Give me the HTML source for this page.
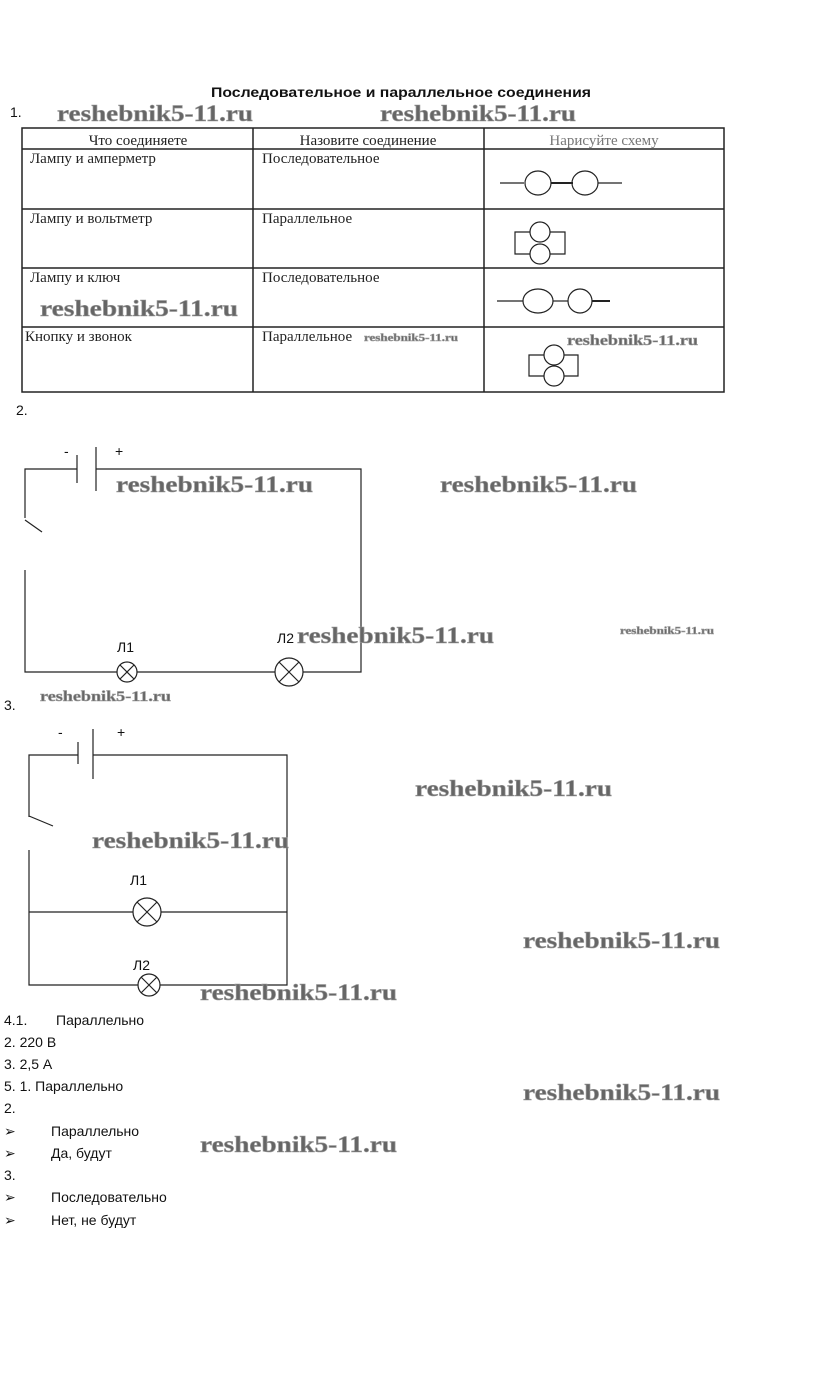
<!DOCTYPE html>
<html><head><meta charset="utf-8"><style>
body{margin:0;background:#fff;width:823px;height:1373px;overflow:hidden}
svg{display:block}
.wm{font-family:"Liberation Serif",serif;font-weight:bold;fill:#666;stroke:#999;stroke-width:0.6}
.ts{font-family:"Liberation Serif","Noto Serif CJK SC",serif;font-size:15px;fill:#222}
.s{font-family:"Liberation Sans","Noto Sans CJK SC",sans-serif;font-size:14px;fill:#111}
</style></head><body>
<svg width="823" height="1373" viewBox="0 0 823 1373" xmlns="http://www.w3.org/2000/svg">
<text x="401" y="97" text-anchor="middle" class="s" font-weight="bold" font-size="14.5" textLength="380" lengthAdjust="spacingAndGlyphs">Последовательное и параллельное соединения</text>
<text x="10" y="117" class="s">1.</text>
<text x="57" y="121" class="wm" font-size="23" textLength="196" lengthAdjust="spacingAndGlyphs">reshebnik5-11.ru</text>
<text x="380" y="121" class="wm" font-size="23" textLength="196" lengthAdjust="spacingAndGlyphs">reshebnik5-11.ru</text>
<!-- table -->
<g stroke="#222" stroke-width="1.5" fill="none">
<rect x="22" y="128" width="702" height="264"/>
<line x1="22" y1="149" x2="724" y2="149"/>
<line x1="22" y1="209" x2="724" y2="209"/>
<line x1="22" y1="268" x2="724" y2="268"/>
<line x1="22" y1="327" x2="724" y2="327"/>
<line x1="253" y1="128" x2="253" y2="392"/>
<line x1="484" y1="128" x2="484" y2="392"/>
</g>
<text x="138" y="145" text-anchor="middle" class="ts" fill="#777">Что соединяете</text>
<text x="368" y="145" text-anchor="middle" class="ts">Назовите соединение</text>
<text x="604" y="145" text-anchor="middle" class="ts" style="fill:#777">Нарисуйте схему</text>
<text x="30" y="163" class="ts">Лампу и амперметр</text>
<text x="262" y="163" class="ts">Последовательное</text>
<text x="30" y="223" class="ts">Лампу и вольтметр</text>
<text x="262" y="223" class="ts">Параллельное</text>
<text x="30" y="282" class="ts">Лампу и ключ</text>
<text x="262" y="282" class="ts">Последовательное</text>
<text x="25" y="341" class="ts">Кнопку и звонок</text>
<text x="262" y="341" class="ts">Параллельное</text>
<text x="364" y="341" class="wm" font-size="11" stroke-width="0.3" textLength="94" lengthAdjust="spacingAndGlyphs">reshebnik5-11.ru</text>
<text x="40" y="316" class="wm" font-size="23" textLength="198" lengthAdjust="spacingAndGlyphs">reshebnik5-11.ru</text>
<text x="567" y="345" class="wm" font-size="15" stroke-width="0.4" textLength="131" lengthAdjust="spacingAndGlyphs">reshebnik5-11.ru</text>
<g stroke="#222" stroke-width="1.2" fill="none">
<line x1="500" y1="183" x2="524" y2="183"/><ellipse cx="538" cy="183" rx="13" ry="12"/>
<line x1="551" y1="183" x2="573" y2="183" stroke-width="2"/><ellipse cx="585" cy="183" rx="13" ry="12"/>
<line x1="598" y1="183" x2="622" y2="183"/>
<path d="M530 232 H515 V254 H530 M550 232 H565 V254 H550"/>
<circle cx="540" cy="232" r="10"/><circle cx="540" cy="254" r="10"/>
<line x1="497" y1="301" x2="523" y2="301"/><ellipse cx="538" cy="301" rx="15" ry="12"/>
<line x1="553" y1="301" x2="568" y2="301"/><ellipse cx="580" cy="301" rx="12" ry="12"/>
<line x1="592" y1="301" x2="610" y2="301" stroke-width="2"/>
<path d="M544 355 H529 V376 H544 M564 355 H578 V376 H564"/>
<circle cx="554" cy="355" r="10"/><circle cx="554" cy="376" r="10"/>
</g>
<!-- 2 -->
<text x="16" y="415" class="s">2.</text>
<text x="64" y="456" class="s">-</text><text x="115" y="456" class="s">+</text>
<g stroke="#222" stroke-width="1.2" fill="none">
<path d="M77 469 H25 V518 M25 520 L42 532 M25 570 V672 H117 M137 672 H275 M303 672 H361 V469 H96"/>
<line x1="77" y1="455" x2="77" y2="483"/><line x1="96" y1="447" x2="96" y2="491"/>
<circle cx="127" cy="672" r="10"/><path d="M120 665 L134 679 M134 665 L120 679"/>
<circle cx="289" cy="672" r="14"/><path d="M279 662 L299 682 M299 662 L279 682"/>
</g>
<text x="117" y="652" class="s">Л1</text><text x="277" y="643" class="s">Л2</text>
<text x="116" y="492" class="wm" font-size="23" textLength="197" lengthAdjust="spacingAndGlyphs">reshebnik5-11.ru</text>
<text x="440" y="492" class="wm" font-size="23" textLength="197" lengthAdjust="spacingAndGlyphs">reshebnik5-11.ru</text>
<text x="297" y="643" class="wm" font-size="23" textLength="197" lengthAdjust="spacingAndGlyphs">reshebnik5-11.ru</text>
<text x="620" y="634" class="wm" font-size="11" stroke-width="0.3" textLength="94" lengthAdjust="spacingAndGlyphs">reshebnik5-11.ru</text>
<text x="40" y="701" class="wm" font-size="15" stroke-width="0.4" textLength="131" lengthAdjust="spacingAndGlyphs">reshebnik5-11.ru</text>
<!-- 3 -->
<text x="4" y="710" class="s">3.</text>
<text x="58" y="737" class="s">-</text><text x="117" y="737" class="s">+</text>
<g stroke="#222" stroke-width="1.2" fill="none">
<path d="M78 755 H29 V817 M29 816 L53 826 M29 850 V985 H138 M160 985 H287 V755 H93"/>
<path d="M29 912 H133 M161 912 H287"/>
<line x1="78" y1="742" x2="78" y2="764"/><line x1="93" y1="729" x2="93" y2="779"/>
<circle cx="147" cy="912" r="14"/><path d="M137 902 L157 922 M157 902 L137 922"/>
<circle cx="149" cy="985" r="11"/><path d="M141 977 L157 993 M157 977 L141 993"/>
</g>
<text x="130" y="885" class="s" font-size="15">Л1</text><text x="133" y="970" class="s" font-size="15">Л2</text>
<text x="415" y="796" class="wm" font-size="23" textLength="197" lengthAdjust="spacingAndGlyphs">reshebnik5-11.ru</text>
<text x="92" y="848" class="wm" font-size="23" textLength="197" lengthAdjust="spacingAndGlyphs">reshebnik5-11.ru</text>
<text x="523" y="948" class="wm" font-size="23" textLength="197" lengthAdjust="spacingAndGlyphs">reshebnik5-11.ru</text>
<text x="200" y="1000" class="wm" font-size="23" textLength="197" lengthAdjust="spacingAndGlyphs">reshebnik5-11.ru</text>
<text x="523" y="1100" class="wm" font-size="23" textLength="197" lengthAdjust="spacingAndGlyphs">reshebnik5-11.ru</text>
<text x="200" y="1152" class="wm" font-size="23" textLength="197" lengthAdjust="spacingAndGlyphs">reshebnik5-11.ru</text>
<!-- 4,5 -->
<g class="s">
<text x="4" y="1025">4.1.</text><text x="56" y="1025">Параллельно</text>
<text x="4" y="1047">2. 220 В</text>
<text x="4" y="1069">3. 2,5 А</text>
<text x="4" y="1091">5. 1. Параллельно</text>
<text x="4" y="1113">2.</text>
<text x="4" y="1136">➢</text><text x="51" y="1136">Параллельно</text>
<text x="4" y="1158">➢</text><text x="51" y="1158">Да, будут</text>
<text x="4" y="1180">3.</text>
<text x="4" y="1202">➢</text><text x="51" y="1202">Последовательно</text>
<text x="4" y="1225">➢</text><text x="51" y="1225">Нет, не будут</text>
</g>
</svg>
</body></html>
